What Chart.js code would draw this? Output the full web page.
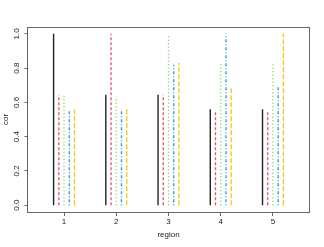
<!DOCTYPE html>
<html lang="en">
<head>
	<meta charset="utf-8">
	<title>cor by region</title>
	<script src="https://cdn.jsdelivr.net/npm/chart.js"></script>
	<style>
		html, body { margin: 0; padding: 0; background: #fff; }
		canvas { display: block; }
	</style>
</head>
<body>
<canvas id="corChart" width="324" height="247"></canvas>
<script>
// data
const regions = [1, 2, 3, 4, 5];
const cor1 = [1.00, 0.645, 0.645, 0.56, 0.56];
const cor2 = [0.645, 1.00, 0.645, 0.55, 0.55];
const cor3 = [0.64, 0.635, 1.00, 0.83, 0.83];
const cor4 = [0.56, 0.56, 0.82, 1.00, 0.70];
const cor5 = [0.565, 0.565, 0.83, 0.69, 1.00];
const yTicks = [0, 0.2, 0.4, 0.6, 0.8, 1.0];

// matplot-ish styling, one entry per series
const series = [cor1, cor2, cor3, cor4, cor5];
const offsets = [-0.2, -0.1, 0, 0.1, 0.2];
const colors = ['#222222', '#DF536B', '#61D04F', '#2297E6', '#F5C710'];
const dashes = [[], [3, 2], [1, 2.5], [1, 2, 3, 2], [5, 2]];

// type="h": one vertical segment per value, broken by nulls
function spikes(values, off) {
	const pts = [];
	regions.forEach(function (r, i) {
		pts.push({ x: r + off, y: 0 });
		pts.push({ x: r + off, y: values[i] });
		pts.push({ x: r + off, y: null });
	});
	return pts;
}

const datasets = series.map(function (vals, k) {
	return {
		label: String(k + 1),
		data: spikes(vals, offsets[k]),
		showLine: true,
		spanGaps: false,
		borderColor: colors[k],
		borderWidth: k === 0 ? 1.4 : 1.3,
		borderDash: dashes[k],
		pointRadius: 0,
		fill: false
	};
});

const font = { family: "'Liberation Sans', Arial, sans-serif", size: 8 };

// box around the plot region
const boxPlugin = {
	id: 'box',
	afterDraw(chart) {
		const a = chart.chartArea;
		const ctx = chart.ctx;
		ctx.save();
		ctx.strokeStyle = '#666';
		ctx.lineWidth = 1;
		ctx.strokeRect(Math.round(a.left) - 0.5, Math.round(a.top) + 0.5,
			Math.round(a.right - a.left) + 1, Math.round(a.bottom - a.top));
		ctx.restore();
	}
};

new Chart(document.getElementById('corChart'), {
	type: 'scatter',
	data: { datasets: datasets },
	options: {
		responsive: false,
		animation: false,
		events: [],
		layout: { padding: { top: 27, right: 15, bottom: 0, left: 0 } },
		plugins: {
			legend: { display: false },
			tooltip: { enabled: false }
		},
		scales: {
			x: {
				type: 'linear',
				min: 0.31,
				max: 5.69,
				afterBuildTicks: function (scale) {
					scale.ticks = regions.map(v => ({ value: v }));
				},
				afterFit: function (scale) { scale.height = 35; },
				grid: { drawOnChartArea: false, tickLength: 4, tickColor: '#666' },
				border: { display: false },
				ticks: { color: '#222', font: font, padding: 1, maxRotation: 0 },
				title: { display: true, text: 'region', color: '#222', font: font, padding: { top: 0, bottom: 7.5 } }
			},
			y: {
				min: -0.04,
				max: 1.04,
				afterBuildTicks: function (scale) {
					scale.ticks = yTicks.map(v => ({ value: v }));
				},
				afterFit: function (scale) { scale.width = 28; },
				grid: { drawOnChartArea: false, tickLength: 3.5, tickColor: '#666' },
				border: { display: false },
				ticks: {
					color: '#222', font: font, padding: 2.5,
					minRotation: 90, maxRotation: 90, crossAlign: 'center',
					callback: v => v.toFixed(1)
				},
				title: { display: true, text: 'cor', color: '#222', font: font, padding: { top: 0.6, bottom: 0 } }
			}
		}
	},
	plugins: [boxPlugin]
});
</script>
</body>
</html>
